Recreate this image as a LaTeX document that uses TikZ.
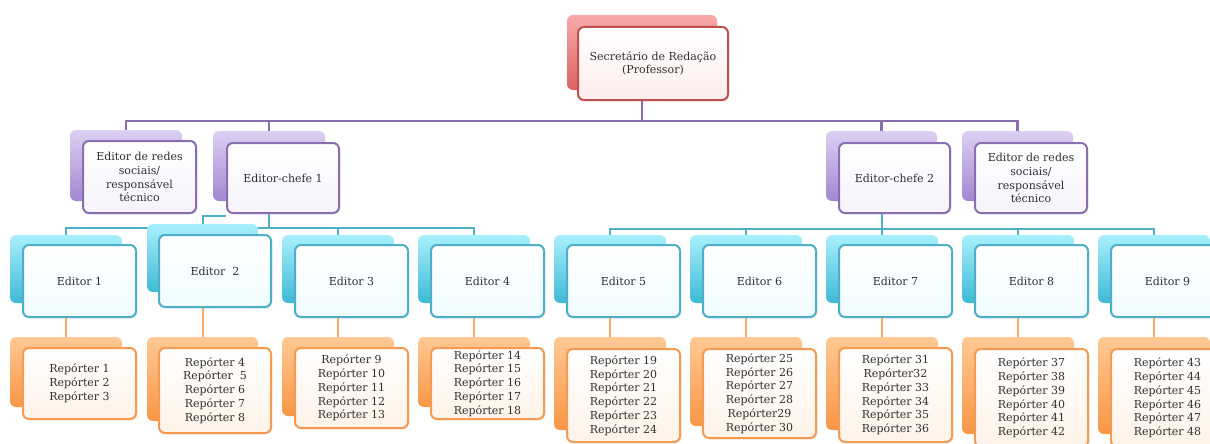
\documentclass[tikz,border=0pt]{standalone}
\usepackage{fontspec}
\setmainfont{DejaVu Serif}
\usetikzlibrary{backgrounds,shadows}
\definecolor{txt}{HTML}{303030}
\definecolor{redT}{HTML}{F7AAAA}\definecolor{redB}{HTML}{DD6361}\definecolor{redL}{HTML}{C0504D}
\definecolor{purT}{HTML}{DCCFF2}\definecolor{purB}{HTML}{A287D1}\definecolor{purL}{HTML}{8A6FB0}
\definecolor{bluT}{HTML}{A8EFFC}\definecolor{bluB}{HTML}{3FBAD6}\definecolor{bluL}{HTML}{4DAFC8}
\definecolor{oraT}{HTML}{FFC994}\definecolor{oraB}{HTML}{F79646}\definecolor{oraL}{HTML}{F59A50}
\definecolor{oraC}{HTML}{F9AC68}
\tikzset{
  boxbase/.style={rectangle, rounded corners=6pt, inner sep=0pt, align=center,
    text=txt, font=\fontsize{11}{13.8}\selectfont},
  backbase/.style={boxbase, draw=none},
  frontbase/.style={boxbase, line width=2pt,
    drop shadow={opacity=0.12, shadow xshift=1.5pt, shadow yshift=-1.5pt}},
  redback/.style={backbase, top color=redT, bottom color=redB},
  purback/.style={backbase, top color=purT, bottom color=purB},
  bluback/.style={backbase, top color=bluT, bottom color=bluB},
  oraback/.style={backbase, top color=oraT, bottom color=oraB},
  redfront/.style={frontbase, draw=redL, top color=white, bottom color=redT!22},
  purfront/.style={frontbase, draw=purL, top color=white, bottom color=purT!25},
  blufront/.style={frontbase, draw=bluL, top color=white, bottom color=bluT!18},
  orafront/.style={frontbase, draw=oraL, top color=white, bottom color=oraT!22},
  purline/.style={draw=purL, line width=2.2pt},
  bluline/.style={draw=bluL, line width=2pt},
  oraline/.style={draw=oraC, line width=2pt},
}
\newcommand\backbox[6]{%
  \pgfmathsetmacro\bw{#5-#3}\pgfmathsetmacro\bh{#6-#4}%
  \pgfmathsetmacro\bx{(#3+#5)/2}\pgfmathsetmacro\by{(#4+#6)/2}%
  \node[#2back, minimum width=\bw pt, minimum height=\bh pt] (#1b) at (\bx,\by) {};}
\newcommand\frontbox[7]{%
  \pgfmathsetmacro\bw{#5-#3}\pgfmathsetmacro\bh{#6-#4}%
  \pgfmathsetmacro\bx{(#3+#5)/2}\pgfmathsetmacro\by{(#4+#6)/2}%
  \node[#2front, minimum width=\bw pt, minimum height=\bh pt] (#1f) at (\bx,\by) {#7};}
\begin{document}
\begin{tikzpicture}[x=1pt,y=-1pt]
\useasboundingbox (0,0) rectangle (1210,444);
% level 1
\backbox{sec}{red}{567}{15}{717}{90}
\frontbox{sec}{red}{578}{27}{728}{100}{Secretário de Redação\\(Professor)}
% level 2
\backbox{edrL}{pur}{70}{130}{182}{201}
\frontbox{edrL}{pur}{83}{141}{196}{213}{Editor de redes\\sociais/\\responsável\\técnico}
\backbox{chA}{pur}{213}{131}{325}{201}
\frontbox{chA}{pur}{227}{143}{339}{213}{Editor-chefe 1}
\backbox{chB}{pur}{826}{131}{937}{201}
\frontbox{chB}{pur}{839}{143}{950}{213}{Editor-chefe 2}
\backbox{edrR}{pur}{962}{131}{1073}{201}
\frontbox{edrR}{pur}{975}{143}{1087}{213}{Editor de redes\\sociais/\\responsável\\técnico}
% level 3
\backbox{eA}{blu}{10}{235}{122}{303}
\frontbox{eA}{blu}{23}{245}{136}{317}{Editor 1}
\backbox{eB}{blu}{147}{224}{258}{292}
\frontbox{eB}{blu}{159}{235}{271}{307}{Editor\ \ 2}
\backbox{eC}{blu}{282}{235}{394}{303}
\frontbox{eC}{blu}{295}{245}{408}{317}{Editor 3}
\backbox{eD}{blu}{418}{235}{530}{303}
\frontbox{eD}{blu}{431}{245}{544}{317}{Editor 4}
\backbox{eE}{blu}{554}{235}{666}{303}
\frontbox{eE}{blu}{567}{245}{680}{317}{Editor 5}
\backbox{eF}{blu}{690}{235}{802}{303}
\frontbox{eF}{blu}{703}{245}{816}{317}{Editor 6}
\backbox{eG}{blu}{826}{235}{938}{303}
\frontbox{eG}{blu}{839}{245}{952}{317}{Editor 7}
\backbox{eH}{blu}{962}{235}{1074}{303}
\frontbox{eH}{blu}{975}{245}{1088}{317}{Editor 8}
\backbox{eI}{blu}{1098}{235}{1210}{303}
\frontbox{eI}{blu}{1111}{245}{1224}{317}{Editor 9}
% level 4
\backbox{rA}{ora}{10}{337}{122}{407}
\frontbox{rA}{ora}{23}{348}{136}{419}{Repórter 1\\Repórter 2\\Repórter 3}
\backbox{rB}{ora}{147}{337}{258}{421}
\frontbox{rB}{ora}{159}{348}{271}{433}{Repórter 4\\Repórter\ \ 5\\Repórter 6\\Repórter 7\\Repórter 8}
\backbox{rC}{ora}{282}{337}{394}{416}
\frontbox{rC}{ora}{295}{348}{408}{428}{Repórter 9\\Repórter 10\\Repórter 11\\Repórter 12\\Repórter 13}
\backbox{rD}{ora}{418}{337}{530}{407}
\frontbox{rD}{ora}{431}{348}{544}{419}{Repórter 14\\Repórter 15\\Repórter 16\\Repórter 17\\Repórter 18}
\backbox{rE}{ora}{554}{337}{666}{430}
\frontbox{rE}{ora}{567}{349}{680}{442}{Repórter 19\\Repórter 20\\Repórter 21\\Repórter 22\\Repórter 23\\Repórter 24}
\backbox{rF}{ora}{690}{337}{802}{426}
\frontbox{rF}{ora}{703}{349}{816}{438}{Repórter 25\\Repórter 26\\Repórter 27\\Repórter 28\\Repórter29\\Repórter 30}
\backbox{rG}{ora}{826}{337}{938}{430}
\frontbox{rG}{ora}{839}{348}{952}{442}{Repórter 31\\Repórter32\\Repórter 33\\Repórter 34\\Repórter 35\\Repórter 36}
\backbox{rH}{ora}{962}{337}{1074}{434}
\frontbox{rH}{ora}{975}{349}{1088}{447}{Repórter 37\\Repórter 38\\Repórter 39\\Repórter 40\\Repórter 41\\Repórter 42}
\backbox{rI}{ora}{1098}{337}{1210}{434}
\frontbox{rI}{ora}{1111}{349}{1224}{447}{Repórter 43\\Repórter 44\\Repórter 45\\Repórter 46\\Repórter 47\\Repórter 48}
% connectors
\coordinate (hA) at (0,121);
\coordinate (hB) at (0,228);
\coordinate (hC) at (0,229);
\coordinate (hD) at (0,216);
\begin{pgfonlayer}{background}
\draw[purline] (secb.center |- secf.south) -- (secb.center |- hA);
\draw[purline] (edrLb.north) -- (edrLb.north |- hA) -- (edrRb.north |- hA) -- (edrRb.north);
\draw[purline] (chAb.north) -- (chAb.north |- hA);
\draw[purline] (chBb.north) -- (chBb.north |- hA);
\draw[bluline] (chAb.center |- chAf.south) -- (chAb.center |- hB);
\draw[bluline] (eAb.north) -- (eAb.north |- hB) -- (eDb.north |- hB) -- (eDb.north);
\draw[bluline] (eCb.north) -- (eCb.north |- hB);
\draw[bluline] (eBb.north) -- (eBb.north |- hD) -- (chAf.west |- hD);
\draw[bluline] (chBb.center |- chBf.south) -- (chBb.center |- hC);
\draw[bluline] (eEb.north) -- (eEb.north |- hC) -- (eIb.north |- hC) -- (eIb.north);
\draw[bluline] (eFb.north) -- (eFb.north |- hC);
\draw[bluline] (eGb.north) -- (eGb.north |- hC);
\draw[bluline] (eHb.north) -- (eHb.north |- hC);
\foreach \k in {A,B,C,D,E,F,G,H,I}{
  \draw[oraline] (r\k b.north) -- (r\k b.north |- e\k f.south);
}
\end{pgfonlayer}
\end{tikzpicture}
\end{document}
